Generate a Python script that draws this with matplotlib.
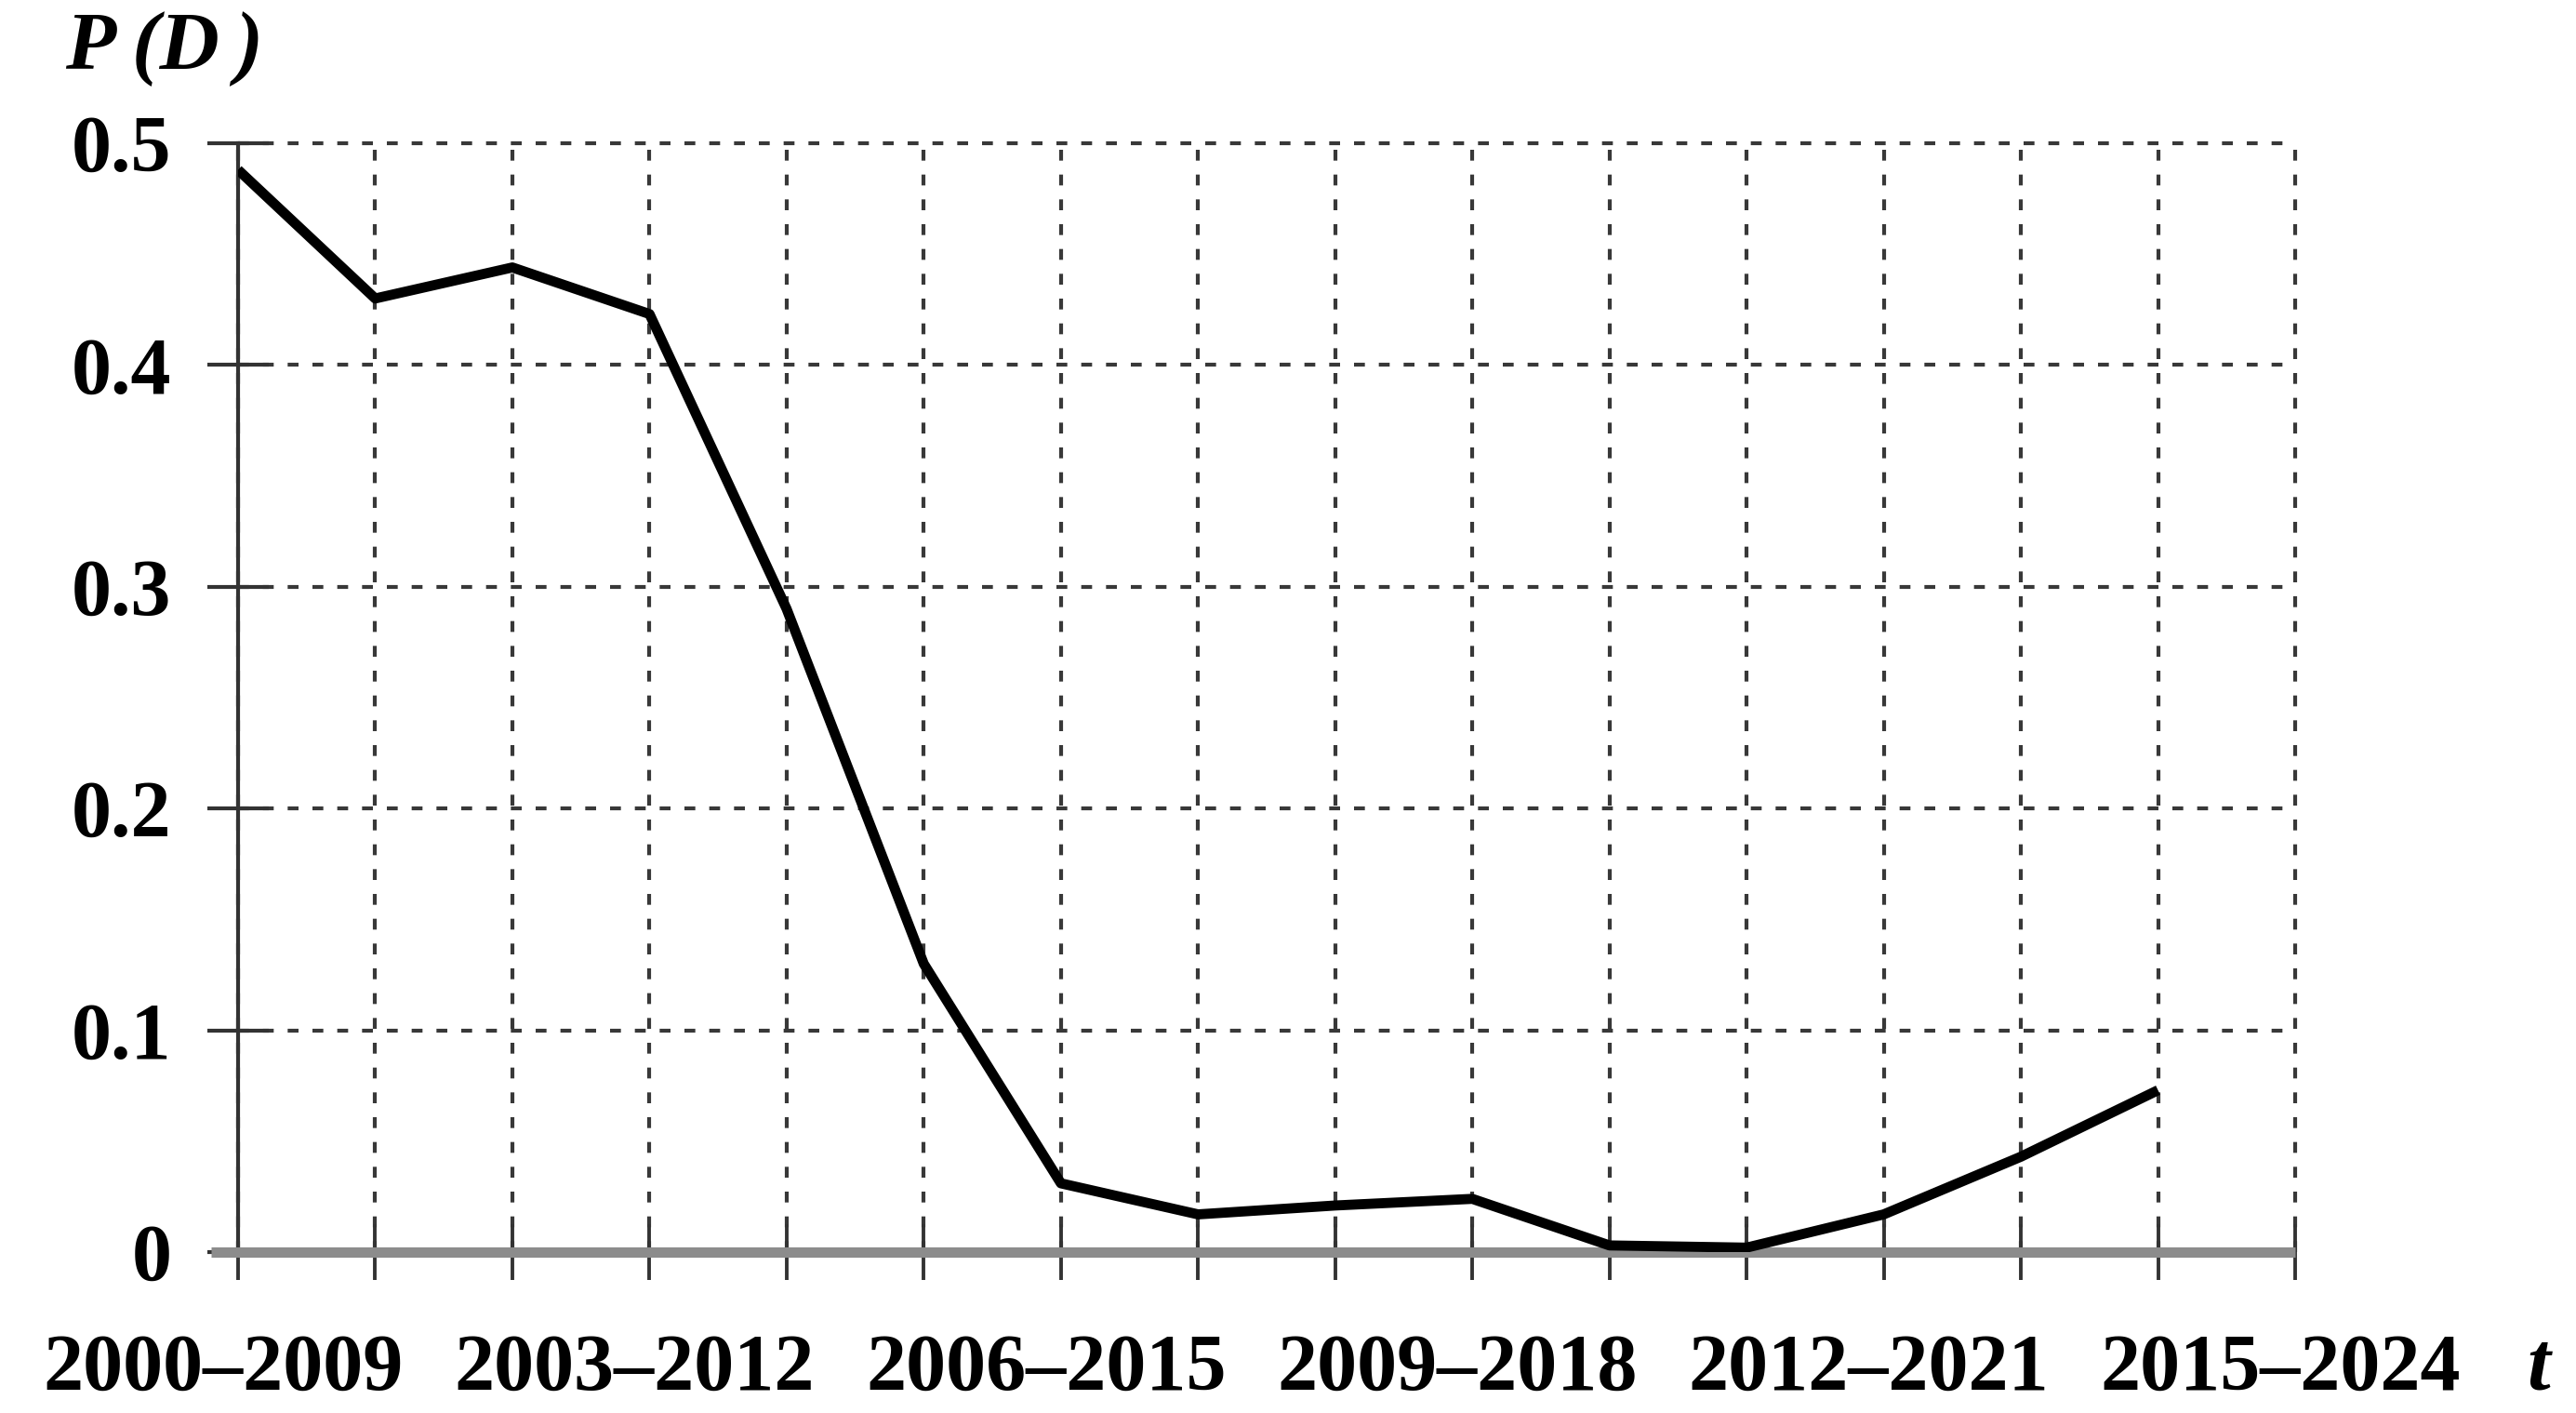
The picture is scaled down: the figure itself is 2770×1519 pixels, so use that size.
import matplotlib
matplotlib.use("Agg")
import matplotlib.pyplot as plt
import matplotlib.transforms as mtransforms
import numpy as np

# ---- data ----
windows = ["2000–2009", "2001–2010", "2002–2011", "2003–2012", "2004–2013",
           "2005–2014", "2006–2015", "2007–2016", "2008–2017", "2009–2018",
           "2010–2019", "2011–2020", "2012–2021", "2013–2022", "2014–2023",
           "2015–2024"]
p_values = [0.488, 0.430, 0.444, 0.423, 0.290, 0.130, 0.031, 0.017,
            0.021, 0.024, 0.003, 0.002, 0.017, 0.043, 0.073]
label_every = 3
y_ticks = [0, 0.1, 0.2, 0.3, 0.4, 0.5]
y_ticklabels = ["0", "0.1", "0.2", "0.3", "0.4", "0.5"]

plt.rcParams['font.family'] = ['Liberation Serif', 'DejaVu Serif']
plt.rcParams['font.weight'] = 'bold'

W, H, DPI = 2770, 1519, 100
fig = plt.figure(figsize=(W / DPI, H / DPI), dpi=DPI)
ax = fig.add_axes([256 / W, 1 - 1346 / H, (2468 - 256) / W, (1346 - 154) / H])

x = np.arange(len(p_values))
ax.plot(x, p_values, color='black', lw=7.8, solid_joinstyle='round',
        solid_capstyle='butt', zorder=5)

ax.set_xlim(0, len(windows) - 1)
ax.set_ylim(0, 0.5)

ax.set_xticks(np.arange(len(windows)))
ax.set_xticklabels([w if i % label_every == 0 else "" for i, w in enumerate(windows)])
ax.set_yticks(y_ticks)
ax.set_yticklabels(y_ticklabels)

ax.grid(True, color='#383838', lw=3.0, linestyle=(0, (2.8, 3.6)), zorder=1)
for gl in ax.get_xgridlines() + ax.get_ygridlines():
    gl.set_clip_on(False)

for s in ['top', 'right']:
    ax.spines[s].set_visible(False)
ax.spines['left'].set_color('#333333')
ax.spines['left'].set_linewidth(3)
ax.spines['bottom'].set_color('#8c8c8c')
ax.spines['bottom'].set_linewidth(8)
ax.spines['bottom'].set_capstyle('butt')
ax.spines['bottom'].set_bounds(-0.2, len(windows) - 1)
ax.spines['bottom'].set_zorder(3)

ax.tick_params(axis='x', direction='inout', length=43, width=2.8, color='#333333',
               pad=42, labelsize=62)
ax.tick_params(axis='y', direction='inout', length=47, width=3, color='#333333',
               pad=28, labelsize=62)
shift = mtransforms.ScaledTranslation(-16 / DPI, 0, fig.dpi_scale_trans)
for lab in ax.get_xticklabels():
    lab.set_fontweight('bold')
    lab.set_transform(lab.get_transform() + shift)
for lab in ax.get_yticklabels():
    lab.set_fontweight('bold')

fig.text(70 / W, 1 - 74 / H, "P\u2009(D\u2009)", fontsize=64, fontstyle='italic',
         fontweight='bold', ha='left', va='baseline')
fig.text(2717 / W, 1 - 1493 / H, "t", fontsize=64, fontstyle='italic',
         fontweight='bold', ha='left', va='baseline')

fig.savefig("out.png", dpi=DPI)
